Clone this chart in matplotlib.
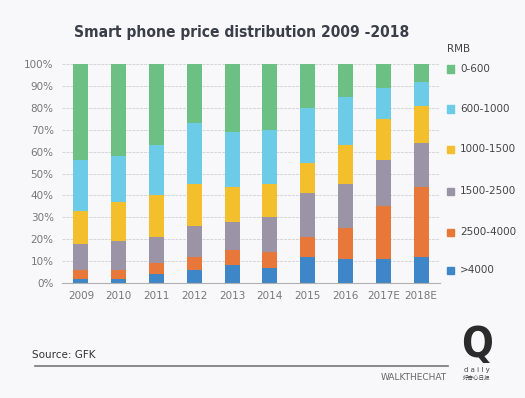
import matplotlib
matplotlib.use("Agg")
import matplotlib.pyplot as plt
from matplotlib import font_manager as fm

years = ["2009", "2010", "2011", "2012", "2013", "2014", "2015", "2016", "2017E", "2018E"]
labels = ["0-600", "600-1000", "1000-1500", "1500-2500", "2500-4000", ">4000"]
v_gt4000 = [2, 2, 4, 6, 8, 7, 12, 11, 11, 12]
v_2500_4000 = [4, 4, 5, 6, 7, 7, 9, 14, 24, 32]
v_1500_2500 = [12, 13, 12, 14, 13, 16, 20, 20, 21, 20]
v_1000_1500 = [15, 18, 19, 19, 16, 15, 14, 18, 19, 17]
v_600_1000 = [23, 21, 23, 28, 25, 25, 25, 22, 14, 11]
v_0_600 = [44, 42, 37, 27, 31, 30, 20, 15, 11, 8]

series = [v_gt4000, v_2500_4000, v_1500_2500, v_1000_1500, v_600_1000, v_0_600]
series_labels = [">4000", "2500-4000", "1500-2500", "1000-1500", "600-1000", "0-600"]
colors = ["#3f86c8", "#e8773a", "#9b93a6", "#f4bf2c", "#6ccbe6", "#6cc083"]

# look for a condensed bold font
cond = None
for f in fm.fontManager.ttflist:
    nm = (f.name + " " + str(f.stretch) + " " + f.fname).lower()
    if ("condensed" in nm or "narrow" in nm) and ("bold" in f.fname.lower() or f.weight in (700, "bold")):
        cond = f.fname
        break
if cond:
    title_fp = fm.FontProperties(fname=cond, size=11.2)
    q_fp = fm.FontProperties(fname=cond, size=30)
else:
    title_fp = fm.FontProperties(family="DejaVu Sans", weight="bold", size=10)
    q_fp = fm.FontProperties(family="DejaVu Sans", weight="bold", size=28)

bg = "#f8f8fa"
fig = plt.figure(figsize=(5.25, 3.98), dpi=100, facecolor=bg)
ax = fig.add_axes([62/525, 1-283/398, (440-62)/525, (283-64)/398], facecolor=bg)

x = list(range(len(years)))
bottom = [0]*len(years)
for vals, c, lab in zip(series, colors, series_labels):
    ax.bar(x, vals, bottom=bottom, width=0.4, color=c, label=lab, zorder=3)
    bottom = [b+v for b, v in zip(bottom, vals)]

ax.set_xlim(-0.5, 9.5)
ax.set_ylim(0, 100)
ax.set_yticks(range(0, 101, 10))
ax.set_yticklabels([f"{t}%" for t in range(0, 101, 10)])
ax.set_xticks(x)
ax.set_xticklabels(years)
ax.tick_params(axis="both", length=0, colors="#777777", labelsize=7.5)
ax.tick_params(axis="x", pad=6)
ax.tick_params(axis="y", pad=6)
ax.yaxis.grid(True, color="#d5d5d8", linewidth=0.7, linestyle=(0, (3, 1)), zorder=0)
for s in ["top", "right", "left"]:
    ax.spines[s].set_visible(False)
ax.spines["bottom"].set_color("#b0b0b0")
ax.spines["bottom"].set_zorder(4)

fig.text(242/525, 1-33/398, "Smart phone price distribution 2009 -2018", ha="center", va="center",
         fontproperties=title_fp, color="#3a3e48")

# legend
fig.text(447/525, 1-49/398, "RMB", fontsize=7.5, color="#444444", va="center", ha="left")
leg_y = [69, 109, 149, 191, 232, 270]
for lab, yy in zip(labels, leg_y):
    c = colors[series_labels.index(lab)]
    fig.patches.append(plt.Rectangle((447/525, 1-(yy+3.5)/398), 7/525, 7/398, color=c, transform=fig.transFigure, figure=fig))
    fig.text(460/525, 1-yy/398, lab, fontsize=7.5, color="#444444", va="center", ha="left")

# footer
fig.text(32/525, 1-355/398, "Source: GFK", fontsize=7.5, color="#333333", va="center", ha="left")
fig.add_artist(plt.Line2D([35/525, 448/525], [1-366/398, 1-366/398], color="#777777", linewidth=1.2))
fig.text(447/525, 1-378/398, "WALKTHECHAT", fontsize=6.5, color="#666666", va="center", ha="right")
fig.text(477/525, 1-345/398, "Q", fontproperties=q_fp, color="#2b2b2b", va="center", ha="center")
fig.text(477/525, 1-370/398, "d a i l y", fontsize=5, color="#444444", va="center", ha="center")
fig.text(477/525, 1-378/398, "好奇心日报", fontsize=4, color="#444444", va="center", ha="center",
         family=["Noto Sans CJK SC", "DejaVu Sans"])

fig.savefig("out.png", dpi=100, facecolor=bg)
